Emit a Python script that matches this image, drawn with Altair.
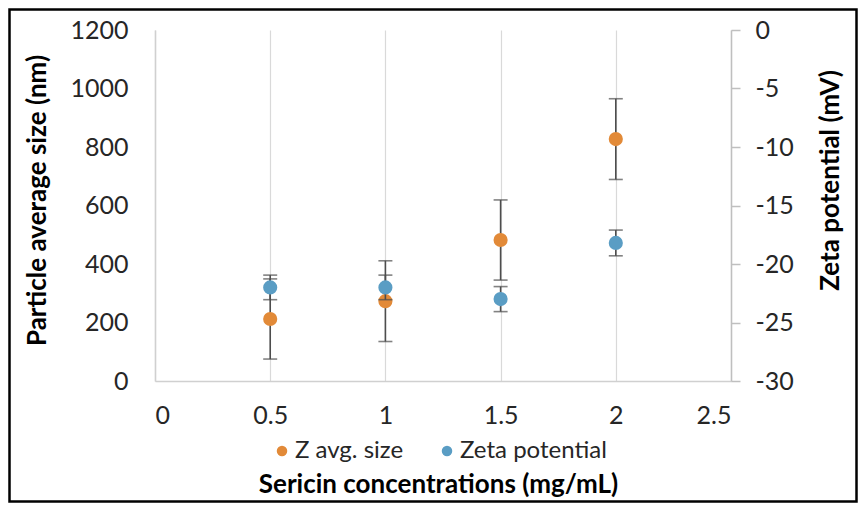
import altair as alt
import pandas as pd

conc = [0.5, 1.0, 1.5, 2.0]
z_avg_size = [212, 273, 482, 827]
z_avg_err = [137, 138, 137, 138]
zeta = [-22.0, -22.0, -23.0, -18.2]
zeta_err = [1.05, 1.05, 1.07, 1.1]

series_names = ["Z avg. size", "Zeta potential"]
series_colors = ["#E28A38", "#5A9DC4"]

x_ticks = [0, 0.5, 1, 1.5, 2, 2.5]
left_ticks = [0, 200, 400, 600, 800, 1000, 1200]
right_ticks = [-30, -25, -20, -15, -10, -5, 0]

df = pd.DataFrame({
    "conc": conc,
    "size": z_avg_size,
    "size_lo": [v - e for v, e in zip(z_avg_size, z_avg_err)],
    "size_hi": [v + e for v, e in zip(z_avg_size, z_avg_err)],
    "zeta": zeta,
    "zeta_lo": [v - e for v, e in zip(zeta, zeta_err)],
    "zeta_hi": [v + e for v, e in zip(zeta, zeta_err)],
})

FONT = "Lato"
W, H = 576, 351
PAD = {"left": 147, "top": 22, "right": 127, "bottom": 122}
LABEL_SIZE = 25
TITLE_SIZE = 26

x_enc = alt.X(
    "conc:Q",
    scale=alt.Scale(domain=[0, 2.5], nice=False, zero=False),
    axis=alt.Axis(
        values=x_ticks, labelExpr="datum.value + ''", grid=True, gridColor="#D9D9D9",
        gridWidth=1.2, ticks=False, tickSize=0, domainColor="#D0D0D0", domainWidth=1.5,
        labelFont=FONT, labelFontSize=LABEL_SIZE, labelColor="#262626", labelPadding=22,
        labelBaseline="top",
        title="Sericin concentrations (mg/mL)", titleFont=FONT, titleFontSize=TITLE_SIZE,
        titleFontWeight="bold", titleColor="#000000", titleX=283, titleY=103,
        titleBaseline="middle", titleAlign="center",
    ),
)

left_axis = alt.Axis(
    values=left_ticks, labelExpr="datum.value + ''", grid=False, ticks=False, tickSize=0,
    domainColor="#D0D0D0", domainWidth=1.5,
    labelFont=FONT, labelFontSize=LABEL_SIZE, labelColor="#262626", labelPadding=27,
    title="Particle average size (nm)", titleFont=FONT, titleFontSize=TITLE_SIZE,
    titleFontWeight="bold", titleColor="#000000", titleX=-118, titleY=170,
    titleAngle=270, titleBaseline="middle", titleAlign="center",
)
right_axis = alt.Axis(
    orient="right", values=right_ticks, labelExpr="datum.value + ''", grid=False,
    ticks=True, tickSize=9, tickColor="#BFBFBF", tickWidth=1.5,
    domainColor="#BFBFBF", domainWidth=1.5,
    labelFont=FONT, labelFontSize=LABEL_SIZE, labelColor="#262626", labelPadding=15,
    title="Zeta potential (mV)", titleFont=FONT, titleFontSize=TITLE_SIZE,
    titleFontWeight="bold", titleColor="#000000", titleX=99, titleY=150,
    titleAngle=270, titleBaseline="middle", titleAlign="center",
)


def ly(field):
    return alt.Y(field, type="quantitative",
                 scale=alt.Scale(domain=[0, 1200], nice=False), axis=left_axis)


def ry(field):
    return alt.Y(field, type="quantitative",
                 scale=alt.Scale(domain=[-30, 0], nice=False), axis=right_axis)


color_scale = alt.Scale(domain=series_names, range=series_colors)
legend = alt.Legend(
    orient="none", legendX=115, legendY=409, direction="horizontal", title=None,
    labelFont=FONT, labelFontSize=24, labelColor="#262626", symbolType="circle",
    symbolSize=110, symbolStrokeWidth=0, labelOffset=1, columnPadding=31,
)
color_enc = alt.Color("series:N", scale=color_scale, legend=legend)

base = alt.Chart(df)
ERR = "#4D4D4D"

size_layer = alt.layer(
    base.mark_rule(color=ERR, strokeWidth=1.6).encode(x=x_enc, y=ly("size_lo"), y2="size_hi"),
    base.transform_fold(["size_lo", "size_hi"]).mark_tick(
        color=ERR, orient="horizontal", size=14, thickness=1.6
    ).encode(x=x_enc, y=ly("value")),
    base.transform_calculate(series=f"'{series_names[0]}'").mark_circle(
        size=200, opacity=1
    ).encode(x=x_enc, y=ly("size"), color=color_enc),
)

zeta_layer = alt.layer(
    base.mark_rule(color=ERR, strokeWidth=1.6).encode(x=x_enc, y=ry("zeta_lo"), y2="zeta_hi"),
    base.transform_fold(["zeta_lo", "zeta_hi"]).mark_tick(
        color=ERR, orient="horizontal", size=14, thickness=1.6
    ).encode(x=x_enc, y=ry("value")),
    base.transform_calculate(series=f"'{series_names[1]}'").mark_circle(
        size=200, opacity=1
    ).encode(x=x_enc, y=ry("zeta"), color=color_enc),
)

frame = alt.Chart(pd.DataFrame({"a": [0]})).mark_rect(
    fill=None, stroke="#000000", strokeWidth=2.5
).encode(
    x=alt.value(-PAD["left"] + 1.5), x2=alt.value(W + PAD["right"] - 1.5),
    y=alt.value(-PAD["top"] + 1.5), y2=alt.value(H + PAD["bottom"] - 1.5),
)

chart = alt.layer(size_layer, zeta_layer, frame).resolve_scale(
    y="independent"
).properties(
    width=W, height=H, padding=PAD, autosize=alt.AutoSizeParams(type="none"),
    background="white",
).configure_view(stroke=None)

chart.save("out.html", embed_options={"renderer": "svg", "actions": False})
